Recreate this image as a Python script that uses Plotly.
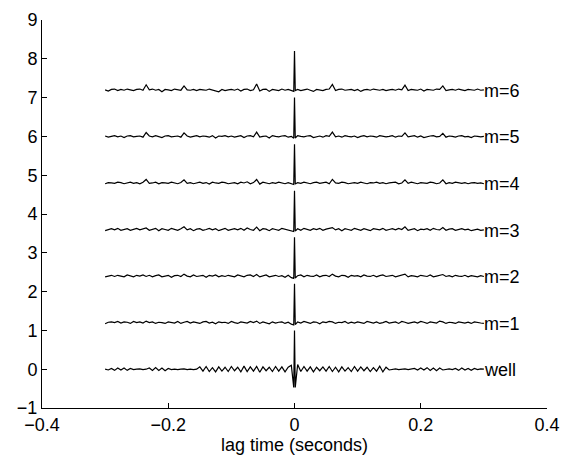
import numpy as np
import plotly.graph_objects as go

# lag axis (seconds): 0.005 s grid with a finer sampling around zero lag
lag = list(np.round(np.arange(60) * 0.005 - 0.3, 4)) + [-0.0012, 0.0, 0.0012] + \
      list(np.round(np.arange(1, 61) * 0.005, 4))

offsets = [0.0, 1.2, 2.4, 3.6, 4.8, 6.0, 7.2]
labels = ["well", "m=1", "m=2", "m=3", "m=4", "m=5", "m=6"]

well = [0.0, -0.02, 0.02, -0.03, 0.03, -0.02, 0.03, -0.03, 0.02, -0.01,
        0.0, 0.01, -0.01, 0.0,
        0.03, -0.03, 0.04, -0.03, 0.03, -0.04, 0.02, -0.01,
        0.0, -0.01, 0.0, 0.01, -0.01, 0.0, -0.01, 0.0,
        0.06, -0.05, 0.07, -0.06, 0.04, -0.07, 0.06, -0.05, 0.05, -0.06,
        0.07, -0.04, 0.05, -0.07, 0.08, -0.06, 0.06, -0.05, 0.07, -0.08,
        0.06, -0.04, 0.05, -0.06, 0.07, -0.05, 0.06, -0.07, 0.05, 0.1] + \
       [-0.47, 1.0, -0.47] + \
       [0.12, -0.06, 0.07, -0.05, 0.06, -0.07, 0.05, -0.04, 0.06, -0.05,
        0.07, -0.06, 0.05, -0.07, 0.06, -0.05, 0.04, -0.06, 0.07, -0.05,
        0.06, -0.04, 0.05, -0.06, 0.04, -0.05, 0.08, -0.07, 0.05, -0.02,
        0.0, 0.01, -0.01, 0.0, 0.01, -0.01, 0.0, 0.02, -0.02, 0.03, -0.02,
        0.04, -0.03, 0.03, -0.04, 0.03, -0.02, 0.0, 0.01, -0.01,
        0.02, -0.03, 0.03, -0.02, 0.02, -0.03, 0.02, -0.01, 0.01, 0.0]

m1 = [-0.03, 0.01, 0.02, 0.0, 0.03, -0.01, 0.02, 0.01, -0.02, 0.03,
      0.0, 0.02, -0.01, 0.04, 0.0, 0.02, -0.02, 0.01, 0.0, -0.02,
      0.02, 0.0, -0.01, 0.03, -0.02, 0.01, 0.03, -0.01, 0.02, 0.0,
      -0.02, 0.02, 0.03, -0.01, 0.01, -0.03, 0.02, 0.0, 0.01, -0.02,
      0.03, 0.0, -0.02, 0.02, 0.01, -0.01, 0.03, 0.0, 0.04, -0.02,
      0.02, 0.0, -0.03, 0.02, -0.01, 0.01, 0.02, -0.02, 0.01, -0.04] + \
     [-0.06, 1.0, -0.05] + \
     [0.02, -0.01, 0.03, 0.0, -0.02, 0.02, 0.01, -0.03, 0.02, 0.0,
      0.03, 0.02, -0.02, 0.01, 0.0, 0.03, -0.02, 0.01, -0.01, 0.02,
      0.0, -0.02, 0.03, 0.01, -0.01, 0.02, -0.02, 0.0, 0.03, -0.01,
      0.01, 0.02, -0.02, 0.03, 0.01, -0.02, 0.0, 0.02, -0.01, 0.03,
      0.01, -0.02, 0.02, 0.0, -0.01, 0.04, 0.02, -0.02, 0.01, 0.0,
      -0.02, 0.02, 0.0, -0.01, 0.01, -0.02, 0.02, 0.0, -0.01, -0.02]

m2 = [-0.02, 0.01, 0.02, -0.01, 0.02, 0.0, -0.02, 0.03, 0.01, -0.02,
      0.02, 0.0, 0.03, -0.01, 0.02, -0.02, 0.01, 0.03, -0.02, 0.0,
      0.02, -0.03, 0.01, 0.02, -0.01, 0.05, 0.0, -0.02, 0.03, -0.01,
      0.01, 0.02, -0.03, 0.02, 0.0, 0.03, -0.02, 0.01, -0.01, 0.02,
      0.0, -0.02, 0.03, 0.01, -0.02, 0.02, 0.03, -0.01, 0.04, -0.02,
      0.01, 0.03, -0.02, 0.0, 0.02, -0.01, 0.01, -0.03, 0.02, -0.04] + \
     [-0.06, 1.0, -0.05] + \
     [0.01, 0.03, -0.02, 0.02, 0.0, -0.01, 0.03, -0.02, 0.01, 0.02,
      -0.01, 0.05, 0.0, -0.02, 0.02, 0.01, -0.03, 0.02, 0.0, 0.01,
      -0.02, 0.03, 0.0, -0.01, 0.02, -0.02, 0.01, 0.03, -0.01, 0.0,
      0.02, -0.02, 0.01, 0.03, 0.05, -0.02, 0.01, 0.0, -0.02, 0.02,
      0.01, -0.01, 0.03, -0.02, 0.0, 0.02, 0.04, -0.01, 0.01, -0.02,
      0.02, 0.0, -0.01, 0.02, -0.02, 0.01, 0.0, -0.02, 0.01, -0.01]

m3 = [-0.03, 0.0, 0.02, -0.01, 0.03, -0.02, 0.01, 0.02, -0.02, 0.0,
      0.03, -0.01, 0.02, 0.04, -0.02, 0.01, 0.03, -0.03, 0.02, 0.0,
      -0.02, 0.03, 0.01, -0.02, 0.02, 0.07, -0.01, 0.02, -0.03, 0.01,
      0.02, -0.02, 0.0, 0.03, -0.01, 0.02, -0.03, 0.01, 0.03, -0.02,
      0.0, 0.02, -0.01, 0.03, -0.02, 0.04, 0.0, -0.02, 0.06, -0.03,
      0.02, 0.01, -0.03, 0.02, 0.0, -0.02, 0.03, 0.01, -0.02, -0.04] + \
     [-0.05, 1.0, -0.04] + \
     [0.02, -0.02, 0.03, 0.01, -0.02, 0.02, 0.0, 0.03, -0.02, 0.01,
      0.03, 0.05, -0.01, 0.02, -0.03, 0.02, 0.0, -0.02, 0.03, 0.01,
      -0.02, 0.02, 0.0, -0.03, 0.02, 0.01, -0.01, 0.03, -0.02, 0.0,
      0.02, -0.01, 0.03, 0.0, 0.07, -0.02, 0.01, 0.02, -0.03, 0.01,
      0.0, 0.02, -0.02, 0.03, 0.0, -0.01, 0.05, -0.02, 0.01, 0.02,
      -0.02, 0.0, 0.02, -0.01, 0.01, -0.03, 0.0, 0.01, -0.02, -0.01]

m4 = [-0.02, 0.01, 0.0, -0.01, 0.02, 0.01, -0.02, 0.0, 0.02, -0.01,
      0.01, -0.02, 0.02, 0.09, -0.01, 0.0, 0.02, -0.02, 0.01, 0.0,
      -0.01, 0.02, 0.0, -0.02, 0.01, 0.08, -0.01, 0.01, -0.02, 0.0,
      0.02, -0.01, 0.01, -0.03, 0.02, 0.0, -0.01, 0.02, 0.01, -0.02,
      0.0, 0.01, -0.02, 0.02, 0.0, 0.03, -0.02, 0.01, 0.09, -0.03,
      0.02, 0.0, -0.02, 0.01, -0.01, 0.02, 0.0, -0.02, 0.01, -0.03] + \
     [-0.04, 1.0, -0.03] + \
     [0.01, -0.01, 0.02, 0.0, -0.02, 0.01, 0.02, -0.01, 0.0, 0.02,
      -0.02, 0.09, 0.0, -0.01, 0.02, 0.01, -0.02, 0.0, 0.01, -0.01,
      0.02, 0.0, -0.02, 0.01, 0.0, 0.02, -0.01, 0.01, -0.02, 0.0,
      0.01, 0.02, -0.02, 0.0, 0.08, -0.01, 0.02, 0.0, -0.02, 0.01,
      0.0, -0.01, 0.02, 0.01, -0.02, 0.0, 0.08, -0.02, 0.01, -0.01,
      0.02, 0.0, -0.01, 0.01, -0.02, 0.0, 0.01, -0.01, 0.0, -0.02]

m5 = [0.01, -0.02, 0.0, 0.02, -0.01, 0.01, -0.03, 0.01, 0.02, -0.01,
      0.0, 0.01, -0.02, 0.10, 0.01, -0.01, 0.02, 0.0, -0.03, 0.01,
      0.02, -0.01, 0.0, 0.01, -0.02, 0.09, 0.01, -0.02, 0.0, 0.02,
      -0.01, 0.01, 0.0, -0.02, 0.02, -0.04, 0.01, 0.0, 0.02, -0.01,
      0.01, -0.02, 0.0, 0.02, -0.03, 0.01, 0.02, -0.01, 0.11, -0.02,
      0.0, 0.01, -0.04, 0.02, 0.0, -0.01, 0.01, 0.02, -0.02, 0.0] + \
     [-0.05, 1.0, -0.04] + \
     [0.02, 0.0, -0.01, 0.01, 0.02, -0.03, 0.0, 0.01, -0.02, 0.02,
      0.0, 0.11, -0.01, 0.01, -0.02, 0.02, 0.0, -0.01, 0.01, -0.03,
      0.0, 0.02, -0.01, 0.01, 0.0, -0.02, 0.02, 0.01, -0.01, 0.0,
      0.02, -0.02, 0.01, 0.0, 0.09, -0.01, 0.0, 0.02, -0.02, 0.01,
      -0.03, 0.0, 0.01, 0.02, -0.01, 0.0, 0.08, -0.02, 0.01, 0.0,
      -0.02, 0.01, 0.02, -0.01, 0.0, -0.03, 0.01, 0.0, -0.01, 0.0]

m6 = [0.0, -0.03, 0.01, 0.02, -0.02, 0.01, -0.01, 0.02, 0.0, -0.02,
      0.01, 0.02, -0.01, 0.13, 0.0, 0.02, -0.01, 0.01, -0.05, 0.01,
      0.0, -0.02, 0.02, 0.01, -0.01, 0.10, 0.0, -0.01, 0.01, -0.02,
      0.01, 0.0, -0.01, 0.02, 0.0, -0.01, -0.05, 0.01, -0.02, 0.0,
      0.01, -0.01, 0.02, -0.03, 0.01, 0.02, -0.02, 0.0, 0.15, -0.03,
      0.01, 0.02, -0.04, 0.01, 0.0, -0.02, 0.02, -0.01, 0.01, -0.03] + \
     [-0.04, 1.0, -0.02] + \
     [0.01, -0.02, 0.0, 0.02, -0.01, -0.04, 0.01, 0.0, -0.02, 0.01,
      0.02, 0.14, -0.02, 0.01, 0.02, -0.01, 0.0, 0.01, -0.02, 0.01,
      -0.04, 0.0, 0.01, -0.01, 0.02, 0.0, -0.01, 0.01, -0.02, 0.0,
      0.01, -0.01, 0.02, 0.0, 0.12, -0.02, 0.01, 0.0, -0.01, 0.02,
      -0.03, 0.01, 0.0, -0.01, 0.02, 0.01, 0.10, -0.02, 0.0, 0.01,
      -0.01, 0.02, 0.0, -0.02, 0.01, 0.0, -0.01, 0.02, -0.01, 0.0]

traces = [well, m1, m2, m3, m4, m5, m6]

FONT = "Liberation Sans, Arial, Helvetica, sans-serif"

fig = go.Figure()
for vals, off, lab in zip(traces, offsets, labels):
    fig.add_trace(go.Scatter(x=lag, y=[off + v for v in vals], mode="lines",
                             line=dict(color="black", width=1.2), showlegend=False,
                             hoverinfo="skip"))
    fig.add_annotation(x=lag[-1], y=off, text=lab, showarrow=False,
                       xanchor="left", yanchor="middle", yshift=-1, xshift=-2,
                       font=dict(family=FONT, size=18, color="black"))

axis_common = dict(showgrid=False, zeroline=False, showline=True, linecolor="black",
                   linewidth=1, ticks="inside", ticklen=5, tickcolor="black",
                   mirror=False, tickfont=dict(family=FONT, size=18, color="black"))

fig.update_layout(
    width=574, height=459,
    margin=dict(l=42, r=27, t=10, b=50),
    paper_bgcolor="white", plot_bgcolor="white",
    xaxis=dict(range=[-0.4, 0.4], tick0=-0.4, dtick=0.2,
               title=dict(text="lag time (seconds)", standoff=2,
                          font=dict(family=FONT, size=18, color="black")),
               **axis_common),
    yaxis=dict(range=[-1, 9], tick0=-1, dtick=1, **axis_common),
)

fig.write_html("out.html")
